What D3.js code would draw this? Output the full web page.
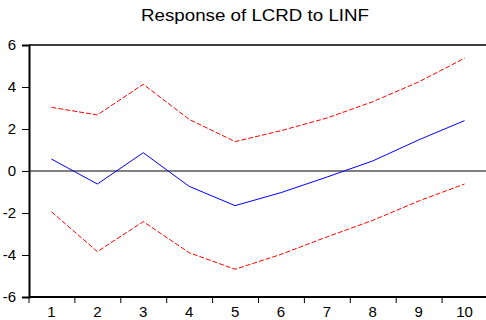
<!DOCTYPE html>
<html><head><meta charset="utf-8">
<script src="https://cdn.jsdelivr.net/npm/d3@7"></script>
<style>body{margin:0;background:#fff}svg{display:block}text{font-family:"Liberation Sans",Arial,sans-serif;fill:#000}</style>
</head><body><svg id="c" width="486" height="320"></svg>
<script>
const periods = [1,2,3,4,5,6,7,8,9,10];
const response = [0.57,-0.62,0.87,-0.73,-1.65,-1.03,-0.29,0.48,1.48,2.4];
const upper = [3.03,2.67,4.13,2.46,1.40,1.92,2.52,3.3,4.24,5.37];
const lower = [-1.94,-3.84,-2.41,-3.89,-4.68,-3.97,-3.14,-2.35,-1.43,-0.62];
const yTicks = [-6,-4,-2,0,2,4,6];
const title = "Response of LCRD to LINF";

const svg = d3.select("#c");
const L = 29, R = 486, T = 45, B = 297;
const x = d3.scaleBand().domain(periods).range([28.5, 487.5]);
const y = d3.scaleLinear().domain([-6,6]).range([B, T]);
const cx = d => x(d) + x.bandwidth()/2;

// title
svg.append("text").attr("x", 255).attr("y", 21).attr("text-anchor","middle")
  .attr("textLength", 228).attr("lengthAdjust","spacingAndGlyphs")
  .style("font-size","17px").text(title);

// zero line
svg.append("line").attr("x1",L).attr("x2",R).attr("y1",y(0)).attr("y2",y(0))
  .attr("stroke","#808080").attr("stroke-width",2);

// top border
svg.append("line").attr("x1",L).attr("x2",R).attr("y1",T).attr("y2",T)
  .attr("stroke","#000").attr("stroke-width",1.5);

// y axis
const ya = svg.append("g").attr("transform",`translate(${L},0)`)
  .call(d3.axisLeft(y).tickValues(yTicks).tickSize(7).tickPadding(6).tickFormat(d => String(d)));
ya.select(".domain").attr("stroke-width",2);
ya.selectAll("text").style("font-size","15px");

// x axis
const xa = svg.append("g").attr("transform",`translate(0,${B})`);
xa.append("line").attr("x1",L).attr("x2",R).attr("stroke","#000").attr("stroke-width",2);
xa.selectAll("line.tk").data(periods).enter().append("line").attr("class","tk")
  .attr("x1",d=>x(d)+0.5).attr("x2",d=>x(d)+0.5).attr("y1",0).attr("y2",6)
  .attr("stroke","#000").attr("stroke-width",1);
xa.selectAll("text").data(periods).enter().append("text")
  .attr("x",d=>cx(d)).attr("y",20).attr("text-anchor","middle")
  .style("font-size","15px").text(d=>d);

const line = d3.line().x((d,i)=>cx(periods[i])).y(d=>y(d));
svg.append("path").attr("d",line(upper)).attr("fill","none").attr("stroke","#ff0000")
  .attr("stroke-width",1).attr("stroke-dasharray","5,2");
svg.append("path").attr("d",line(lower)).attr("fill","none").attr("stroke","#ff0000")
  .attr("stroke-width",1).attr("stroke-dasharray","5,2");
svg.append("path").attr("d",line(response)).attr("fill","none").attr("stroke","#0000ff")
  .attr("stroke-width",1);
</script></body></html>
